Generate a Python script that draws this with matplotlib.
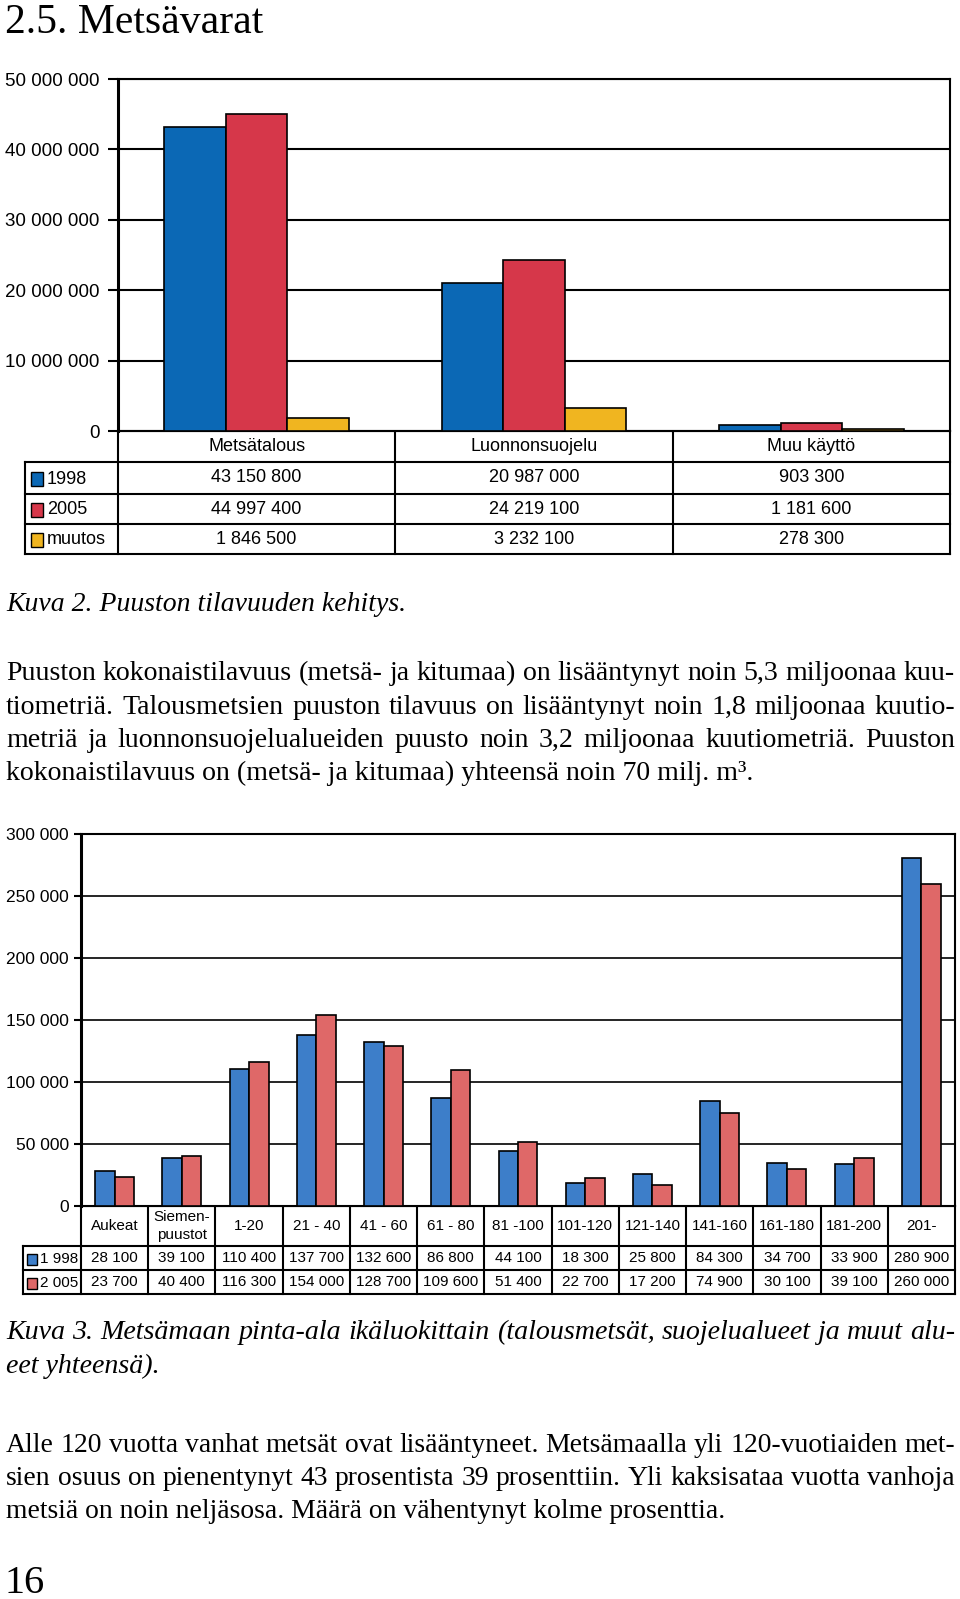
import matplotlib
matplotlib.use("Agg")
import matplotlib.pyplot as plt
import numpy as np
from matplotlib.patches import Rectangle
from matplotlib.font_manager import FontProperties

W, H = 960, 1599

# Kuva 2 - puuston tilavuus
kayttomuodot = ["Metsätalous", "Luonnonsuojelu", "Muu käyttö"]
v1998 = [43150800, 20987000, 903300]
v2005 = [44997400, 24219100, 1181600]
muutos = [1846500, 3232100, 278300]
sarjat1 = ["1998", "2005", "muutos"]

# Kuva 3 - metsämaan pinta-ala ikäluokittain
ikaluokat = ["Aukeat", "Siemen-\npuustot", "1-20", "21 - 40", "41 - 60", "61 - 80",
             "81 -100", "101-120", "121-140", "141-160", "161-180", "181-200", "201-"]
a1998 = [28100, 39100, 110400, 137700, 132600, 86800, 44100, 18300, 25800, 84300, 34700, 33900, 280900]
a2005 = [23700, 40400, 116300, 154000, 128700, 109600, 51400, 22700, 17200, 74900, 30100, 39100, 260000]
sarjat2 = ["1 998", "2 005"]

otsikko = "2.5. Metsävarat"
kuva2 = ["Kuva 2. Puuston tilavuuden kehitys."]
kpl1 = ["Puuston kokonaistilavuus (metsä- ja kitumaa) on lisääntynyt noin 5,3 miljoonaa kuu-",
        "tiometriä. Talousmetsien puuston tilavuus on lisääntynyt noin 1,8 miljoonaa kuutio-",
        "metriä ja luonnonsuojelualueiden puusto noin 3,2 miljoonaa kuutiometriä. Puuston",
        "kokonaistilavuus on (metsä- ja kitumaa) yhteensä noin 70 milj. m³."]
kuva3 = ["Kuva 3. Metsämaan pinta-ala ikäluokittain (talousmetsät, suojelualueet ja muut alu-",
         "eet yhteensä)."]
kpl2 = ["Alle 120 vuotta vanhat metsät ovat lisääntyneet. Metsämaalla yli 120-vuotiaiden met-",
        "sien osuus on pienentynyt 43 prosentista 39 prosenttiin. Yli kaksisataa vuotta vanhoja",
        "metsiä on noin neljäsosa. Määrä on vähentynyt kolme prosenttia."]

SANS = "Liberation Sans"
SERIF = "Liberation Serif"


def fmt(v):
    return f"{v:,}".replace(",", " ")


def box(x0, y0, x1, y1):
    return [x0 / W, 1 - y1 / H, (x1 - x0) / W, (y1 - y0) / H]


fig = plt.figure(figsize=(9.6, 15.99), dpi=100)
page = fig.add_axes([0, 0, 1, 1])
page.set_xlim(0, W)
page.set_ylim(H, 0)
page.axis("off")


def bar_chart(pos, ymax, step, series, colors, width, tick_len, pad, grid_lw, fs):
    ax = fig.add_axes(box(*pos))
    n = len(series[0])
    x = np.arange(n) + 0.5
    k = len(series)
    for i, (vals, c) in enumerate(zip(series, colors)):
        ax.bar(x + (i - (k - 1) / 2) * width, vals, width, color=c,
               edgecolor="black", linewidth=1.2, zorder=3)
    ax.set_xlim(0, n)
    ax.set_ylim(0, ymax)
    ticks = np.arange(0, ymax + 1, step)
    ax.set_yticks(ticks)
    ax.set_yticklabels([fmt(int(t)) for t in ticks], fontsize=fs, family=SANS)
    ax.yaxis.grid(True, color="black", lw=grid_lw, zorder=1)
    ax.set_xticks([])
    ax.tick_params(axis="y", length=tick_len, width=1.5, pad=pad)
    for s in ax.spines.values():
        s.set_color("black")
        s.set_linewidth(1.5)
    ax.spines["left"].set_linewidth(2.2)
    return ax


def table(x_left, x_axis, x_right, ys, headers, labels, values, colors, fs,
          key_w, key_h, key_x, lab_x, lw=1.5):
    ncol = len(headers)
    edges = np.linspace(x_axis, x_right, ncol + 1)
    page.plot([x_axis, x_right], [ys[0], ys[0]], color="black", lw=lw)
    for y in ys[1:]:
        page.plot([x_left, x_right], [y, y], color="black", lw=lw)
    page.plot([x_left, x_left], [ys[1], ys[-1]], color="black", lw=lw)
    for e in edges:
        page.plot([e, e], [ys[0], ys[-1]], color="black", lw=lw)
    cx = (edges[:-1] + edges[1:]) / 2
    hy = (ys[0] + ys[1]) / 2
    for c, h in zip(cx, headers):
        page.text(c, hy, h, ha="center", va="center", fontsize=fs, family=SANS,
                  linespacing=1.3)
    for r, (lab, vals, col) in enumerate(zip(labels, values, colors)):
        cy = (ys[r + 1] + ys[r + 2]) / 2
        page.add_patch(Rectangle((key_x, cy - key_h / 2 + 1), key_w, key_h,
                                 facecolor=col, edgecolor="black", lw=1))
        page.text(lab_x, cy + 1, lab, ha="left", va="center", fontsize=fs, family=SANS)
        for c, v in zip(cx, vals):
            page.text(c, cy, fmt(v), ha="center", va="center", fontsize=fs, family=SANS)


# Kuva 2
col1 = ["#0b68b5", "#d6374a", "#f0b520"]
bar_chart((118, 79, 950, 431), 50000000, 10000000, [v1998, v2005, muutos], col1,
          0.222, 7.2, 6, 1.5, 13.5)
table(25, 118, 950, [431, 462, 494, 524, 554], kayttomuodot, sarjat1,
      [v1998, v2005, muutos], col1, 13, 12, 14, 31, 47)

# Kuva 3
col2 = ["#3d7ec9", "#df6868"]
bar_chart((81, 834, 955, 1206), 300000, 50000, [a1998, a2005], col2,
          0.29, 5, 3.6, 1.2, 12.5)
table(23, 81, 955, [1206, 1246, 1270, 1294], ikaluokat, sarjat2,
      [a1998, a2005], col2, 11, 10, 11, 27, 40)

# teksti
renderer = fig.canvas.get_renderer()


def text_w(s, size, style):
    prop = FontProperties(family=SERIF, size=size, style=style)
    w, h, d = renderer.get_text_width_height_descent(s, prop, ismath=False)
    return w


def justify(lines, baselines, size, style="normal", x0=6, x1=955):
    target = x1 - x0
    for line in lines[:-1]:
        natural = text_w(line, size, style)
        if natural > target:
            size = size * target / natural
    for i, (line, y) in enumerate(zip(lines, baselines)):
        if i == len(lines) - 1:
            page.text(x0, y, line, fontsize=size, family=SERIF, style=style, va="baseline")
            continue
        words = line.split(" ")
        ws = [text_w(w, size, style) for w in words]
        gap = (target - sum(ws)) / (len(words) - 1)
        x = x0
        for w, ww in zip(words, ws):
            page.text(x, y, w, fontsize=size, family=SERIF, style=style, va="baseline")
            x += ww + gap


page.text(5, 33, otsikko, fontsize=30, family=SERIF, va="baseline")
justify(kuva2, [611], 20, "italic")
justify(kpl1, [680, 713.5, 747, 780], 21)
justify(kuva3, [1339, 1373], 21, "italic")
justify(kpl2, [1452, 1485, 1518], 21)
page.text(5, 1593, "16", fontsize=29, family=SERIF, va="baseline")

fig.savefig("out.png", dpi=100)
